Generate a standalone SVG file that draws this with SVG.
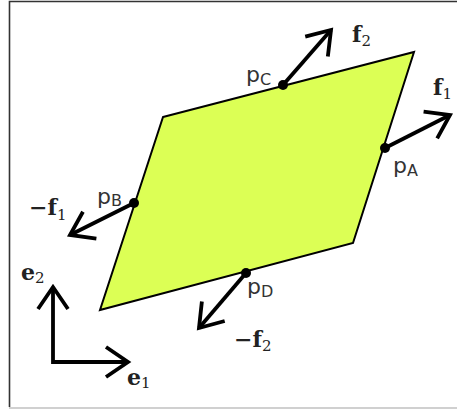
<svg xmlns="http://www.w3.org/2000/svg" width="457" height="409" viewBox="0 0 457 409">
<style>
.vec{fill:none;stroke:#000;stroke-width:3.8;marker-end:url(#chev)}
.pt{fill:#000}
.plab{font-family:"DejaVu Sans",sans-serif;font-size:22px;fill:#333}
.psub{font-size:16px}
.flab{font-family:"DejaVu Serif",serif;font-weight:bold;font-size:22px;fill:#222}
.fsub{font-size:15px;font-weight:normal}
</style>
<defs>
<marker id="chev" markerUnits="userSpaceOnUse" orient="auto-start-reverse" refX="0" refY="0" markerWidth="40" markerHeight="40" viewBox="-30 -20 40 40" overflow="visible">
<path d="M-22,-15 L0,0 L-22,15" fill="none" stroke="#000" stroke-width="3.8" stroke-linejoin="miter"/>
</marker>
</defs>
<rect x="0" y="0" width="457" height="409" fill="#fff"/>
<path d="M9.5,407 V1.5 H457" fill="none" stroke="#333" stroke-width="1.6"/>
<line x1="9" y1="408" x2="457" y2="408" stroke="#d0d0d0" stroke-width="2"/>

<g id="plate">
<polygon points="163,117 414,52 353,243 100,310" fill="#dcff55" stroke="#000" stroke-width="2"/>
</g>

<g id="connectors">
<path class="vec" d="M283,85 L331,30"/>
<path class="vec" d="M385,148 L450,115"/>
<path class="vec" d="M134,203 L70,235"/>
<path class="vec" d="M246,273 L199,328"/>
<path class="vec" d="M53,287 L53,362 L128,362" style="marker-start:url(#chev);stroke-linejoin:miter"/>
</g>

<g id="pA"><circle class="pt" cx="385" cy="148" r="5"/><text class="plab" x="393" y="173">p<tspan class="psub" dy="3">A</tspan></text></g>
<g id="pB"><circle class="pt" cx="134" cy="203" r="5"/><text class="plab" x="97" y="204">p<tspan class="psub" dy="2">B</tspan></text></g>
<g id="pC"><circle class="pt" cx="283" cy="85" r="5"/><text class="plab" x="246" y="82">p<tspan class="psub" dy="3">C</tspan></text></g>
<g id="pD"><circle class="pt" cx="246" cy="273" r="5"/><text class="plab" x="247" y="294">p<tspan class="psub" dy="3">D</tspan></text></g>

<g id="f1"><text class="flab" x="433" y="95">f<tspan class="fsub" dy="4">1</tspan></text></g>
<g id="f2"><text class="flab" x="352" y="42">f<tspan class="fsub" dy="4">2</tspan></text></g>
<g id="mf1"><text class="flab" x="29" y="215">−f<tspan class="fsub" dy="5">1</tspan></text></g>
<g id="mf2"><text class="flab" x="234" y="347">−f<tspan class="fsub" dy="4">2</tspan></text></g>
<g id="e1"><text class="flab" x="127" y="385">e<tspan class="fsub" dy="3">1</tspan></text></g>
<g id="e2"><text class="flab" x="21" y="280">e<tspan class="fsub" dy="3">2</tspan></text></g>
</svg>
